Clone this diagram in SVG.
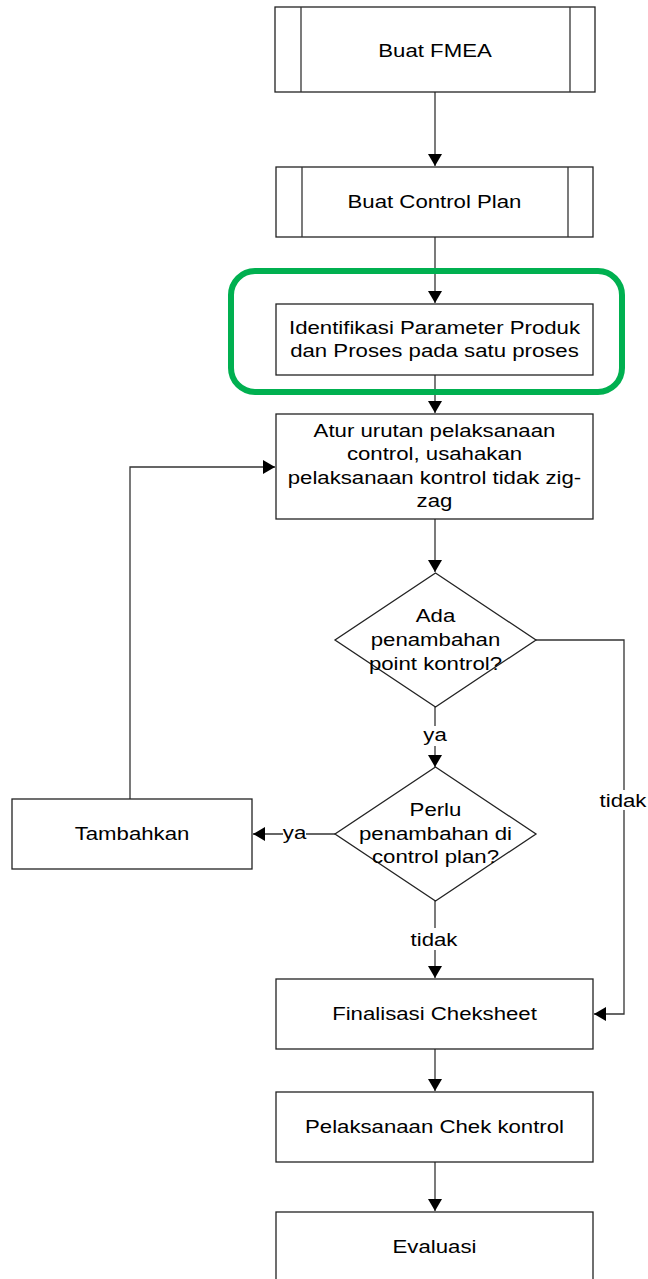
<svg xmlns="http://www.w3.org/2000/svg" width="648" height="1279" viewBox="0 0 648 1279">
<style>
.box{fill:#fff;stroke:#222;stroke-width:1.3}
.ln{fill:none;stroke:#333;stroke-width:1.3}
.t{font-family:"Liberation Sans",Arial,sans-serif;font-size:18.5px;fill:#000;text-anchor:middle}
.hl{fill:none;stroke:#00b050;stroke-width:6}
</style>
<defs>
<marker id="ah" viewBox="0 0 12 14" refX="12" refY="7" markerWidth="12" markerHeight="14" markerUnits="userSpaceOnUse" orient="auto">
<path d="M0,0 L12,7 L0,14 Z" fill="#000"/>
</marker>
</defs>
<rect width="648" height="1279" fill="#fff"/>
<g id="connectors">
<line class="ln" x1="435" y1="92" x2="435" y2="166" marker-end="url(#ah)"/>
<line class="ln" x1="435" y1="237" x2="435" y2="303" marker-end="url(#ah)"/>
<line class="ln" x1="435" y1="375" x2="435" y2="413" marker-end="url(#ah)"/>
<line class="ln" x1="435" y1="519" x2="435" y2="572" marker-end="url(#ah)"/>
<line class="ln" x1="435" y1="707" x2="435" y2="767" marker-end="url(#ah)"/>
<polyline class="ln" points="536,640 624,640 624,1014 594,1014" marker-end="url(#ah)"/>
<line class="ln" x1="335" y1="834" x2="253" y2="834" marker-end="url(#ah)"/>
<polyline class="ln" points="130,799 130,467 275,467" marker-end="url(#ah)"/>
<line class="ln" x1="435" y1="901" x2="435" y2="978" marker-end="url(#ah)"/>
<line class="ln" x1="435" y1="1049" x2="435" y2="1091" marker-end="url(#ah)"/>
<line class="ln" x1="435" y1="1162" x2="435" y2="1211" marker-end="url(#ah)"/>
<rect x="424" y="726" width="22" height="20" fill="#fff"/>
<text class="t" transform="translate(435,741) scale(1.2,1)">ya</text>
<rect x="600" y="790" width="46" height="20" fill="#fff"/>
<text class="t" transform="translate(623,807) scale(1.2,1)">tidak</text>
<rect x="283" y="824" width="23" height="20" fill="#fff"/>
<text class="t" transform="translate(294.5,839) scale(1.2,1)">ya</text>
<rect x="411" y="928" width="46" height="22" fill="#fff"/>
<text class="t" transform="translate(434,946) scale(1.2,1)">tidak</text>
</g>
<g id="buat-fmea">
<rect class="box" x="275" y="7" width="320" height="85"/>
<line class="ln" x1="301" y1="7" x2="301" y2="92"/>
<line class="ln" x1="570" y1="7" x2="570" y2="92"/>
<text class="t" transform="translate(435,57) scale(1.2,1)">Buat FMEA</text>
</g>
<g id="buat-control-plan">
<rect class="box" x="276" y="167" width="317" height="70"/>
<line class="ln" x1="302" y1="167" x2="302" y2="237"/>
<line class="ln" x1="568" y1="167" x2="568" y2="237"/>
<text class="t" transform="translate(434.5,208) scale(1.2,1)">Buat Control Plan</text>
</g>
<g id="highlight">
<rect class="hl" x="231" y="271" width="391" height="121" rx="24" ry="24"/>
</g>
<g id="identifikasi">
<rect class="box" x="276" y="304" width="317" height="71"/>
<text class="t" transform="translate(434.5,334) scale(1.2,1)"><tspan x="0">Identifikasi Parameter Produk</tspan><tspan x="0" dy="23">dan Proses pada satu proses</tspan></text>
</g>
<g id="atur-urutan">
<rect class="box" x="276" y="414" width="317" height="105"/>
<text class="t" transform="translate(434.5,437) scale(1.2,1)"><tspan x="0">Atur urutan pelaksanaan</tspan><tspan x="0" dy="23.5">control, usahakan</tspan><tspan x="0" dy="23.5">pelaksanaan kontrol tidak zig-</tspan><tspan x="0" dy="23.5">zag</tspan></text>
</g>
<g id="ada-penambahan">
<polygon class="box" points="435.5,573 536,640 435.5,707 335,640"/>
<text class="t" transform="translate(435.5,622) scale(1.2,1)"><tspan x="0">Ada</tspan><tspan x="0" dy="24">penambahan</tspan><tspan x="0" dy="24">point kontrol?</tspan></text>
</g>
<g id="perlu-penambahan">
<polygon class="box" points="435.5,767 536,834 435.5,901 335,834"/>
<text class="t" transform="translate(435.5,816) scale(1.2,1)"><tspan x="0">Perlu</tspan><tspan x="0" dy="24">penambahan di</tspan><tspan x="0" dy="23.5">control plan?</tspan></text>
</g>
<g id="tambahkan">
<rect class="box" x="12" y="799" width="240" height="70"/>
<text class="t" transform="translate(132,840) scale(1.2,1)">Tambahkan</text>
</g>
<g id="finalisasi">
<rect class="box" x="276" y="979" width="317" height="70"/>
<text class="t" transform="translate(434.5,1020) scale(1.2,1)">Finalisasi Cheksheet</text>
</g>
<g id="pelaksanaan">
<rect class="box" x="276" y="1092" width="317" height="70"/>
<text class="t" transform="translate(434.5,1133) scale(1.2,1)">Pelaksanaan Chek kontrol</text>
</g>
<g id="evaluasi">
<rect class="box" x="276" y="1212" width="317" height="72"/>
<text class="t" transform="translate(434.5,1253) scale(1.2,1)">Evaluasi</text>
</g>
</svg>
